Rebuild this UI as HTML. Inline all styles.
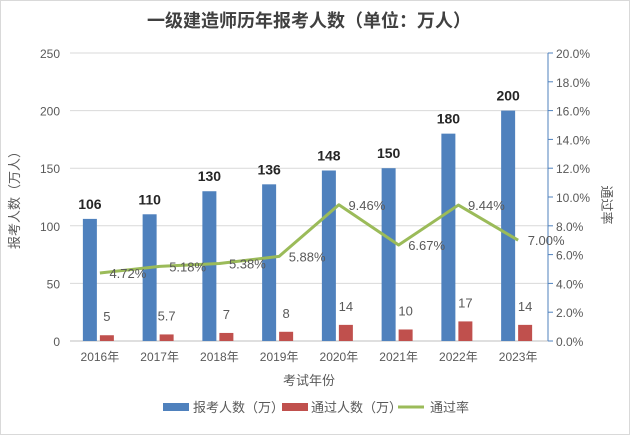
<!DOCTYPE html>
<html><head><meta charset="utf-8"><style>
body{margin:0;background:#fff;}
#wrap{width:628px;height:433px;border:1px solid #d9d9d9;position:relative;overflow:hidden;}
svg text{font-family:"Liberation Sans","Noto Sans CJK SC",sans-serif;}
</style></head><body>
<div id="wrap">
<svg id="chart" width="630" height="435" style="position:absolute;left:-1px;top:-1px">
<text x="309" y="27" text-anchor="middle" font-size="18" font-weight="bold" fill="#404040">一级建造师历年报考人数（单位：万人）</text>
<g id="grid"></g><g id="marks"></g><g id="labels"></g>
<text transform="translate(19,197) rotate(-90)" text-anchor="middle" font-size="13" fill="#595959">报考人数（万人）</text>
<text transform="translate(602,205) rotate(90)" text-anchor="middle" font-size="13" fill="#595959">通过率</text>
<text x="309" y="385" text-anchor="middle" font-size="13" fill="#595959">考试年份</text>
<g>
<rect x="163" y="403" width="26" height="8" fill="#4f81bd"/>
<text x="193" y="412" font-size="13" fill="#595959">报考人数（万）</text>
<rect x="282" y="403" width="26" height="8" fill="#c0504d"/>
<text x="311" y="412" font-size="13" fill="#595959">通过人数（万）</text>
<line x1="398" y1="407" x2="424" y2="407" stroke="#9bbb59" stroke-width="3"/>
<text x="430" y="412" font-size="13" fill="#595959">通过率</text>
</g>
</svg></div>
<script>
const categories=["2016年","2017年","2018年","2019年","2020年","2021年","2022年","2023年"];
const applicants=[106,110,130,136,148,150,180,200];
const passed=[5,5.7,7,8,14,10,17,14];
const passRate=[4.72,5.18,5.38,5.88,9.46,6.67,9.44,7.00];
const leftTicks=[0,50,100,150,200,250];
const rightTicks=[0,2,4,6,8,10,12,14,16,18,20];

const NS="http://www.w3.org/2000/svg";
const L=70,R=548,T=53,B=341;
const yL=v=>B-(v/250)*(B-T);
const yR=v=>B-(v/20)*(B-T);
const band=(R-L)/categories.length;
const xC=i=>L+band*(i+0.5);
function mk(tag,attrs,parent,text){const e=document.createElementNS(NS,tag);for(const k in attrs)e.setAttribute(k,attrs[k]);if(text!==undefined)e.textContent=text;parent.appendChild(e);return e;}
const grid=document.getElementById('grid'),marks=document.getElementById('marks'),labels=document.getElementById('labels');
leftTicks.forEach(t=>{
  const g=mk('line',{x1:L,x2:R,y1:yL(t),y2:yL(t),stroke:t===0?'#bfbfbf':'#d9d9d9','stroke-width':1},grid);
  
  
  const tx=mk('text',{x:60,y:yL(t)+5,'text-anchor':'end','font-size':12,fill:'#595959'},grid,String(t));
  
  
});
const ax=mk('line',{x1:R,x2:R,y1:T,y2:B,stroke:'#4f81bd'},grid);


rightTicks.forEach(t=>{
  mk('line',{x1:R,x2:R+5,y1:yR(t),y2:yR(t),stroke:'#4f81bd'},grid);
  const tx=mk('text',{x:556,y:yR(t)+5,'font-size':12,fill:'#595959'},grid,t.toFixed(1)+'%');
  
  
});
categories.forEach((c,i)=>{
  const tx=mk('text',{x:xC(i),y:361,'text-anchor':'middle','font-size':12,fill:'#595959'},labels,c);
  
  
  const b=mk('rect',{x:xC(i)-17,y:yL(applicants[i]),width:14,height:B-yL(applicants[i]),fill:'#4f81bd'},marks);
  
  
  const r=mk('rect',{x:xC(i),y:yL(passed[i]),width:14,height:B-yL(passed[i]),fill:'#c0504d'},marks);
  
  
  const la=mk('text',{x:xC(i)-10,y:yL(applicants[i])-10,'text-anchor':'middle','font-size':14,'font-weight':'bold',fill:'#262626'},labels,String(applicants[i]));
  
  
  const lp=mk('text',{x:xC(i)+7,y:yL(passed[i])-14,'text-anchor':'middle','font-size':13,fill:'#595959'},labels,String(passed[i]));
  
  
  const lr=mk('text',{x:xC(i)+28,y:yR(passRate[i])+5,'text-anchor':'middle','font-size':13,fill:'#595959'},labels,passRate[i].toFixed(2)+'%');
  
  
});
const pl=mk('polyline',{points:passRate.map((v,i)=>xC(i)+','+yR(v)).join(' '),fill:'none',stroke:'#9bbb59','stroke-width':3,'stroke-linejoin':'round'},marks);


</script>
</body></html>
